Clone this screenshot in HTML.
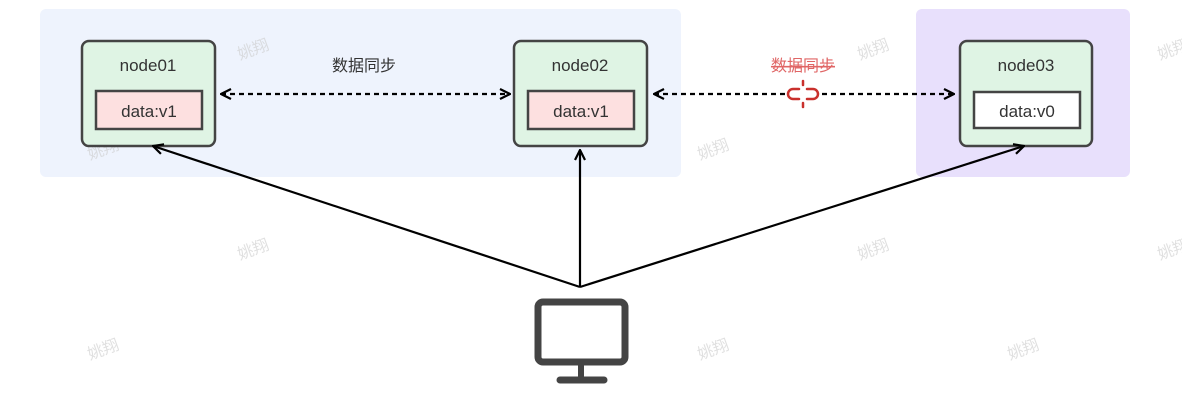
<!DOCTYPE html>
<html><head><meta charset="utf-8"><style>
body{margin:0;width:1182px;height:408px;background:#fff;overflow:hidden;font-family:"Liberation Sans","Noto Sans CJK SC",sans-serif}
</style></head><body>
<svg width="1182" height="408" xmlns="http://www.w3.org/2000/svg" style="position:absolute;left:0;top:0">
<defs>
<marker id="a" viewBox="0 0 12 12" refX="11" refY="6" markerWidth="12" markerHeight="12" orient="auto-start-reverse" markerUnits="userSpaceOnUse">
<path d="M1,1 L11,6 L1,11" fill="none" stroke="#000" stroke-width="2.2"/></marker>
</defs>
<rect x="40" y="9" width="641" height="168" rx="6" fill="#eef3fd"/>
<rect x="916" y="9" width="214" height="168" rx="6" fill="#e8e0fc"/>
<g font-size="16" fill="#ccc" opacity="0.6">
<text x="240" y="60" transform="rotate(-20 240 60)">姚翔</text>
<text x="90" y="160" transform="rotate(-20 90 160)">姚翔</text>
<text x="700" y="160" transform="rotate(-20 700 160)">姚翔</text>
<text x="860" y="60" transform="rotate(-20 860 60)">姚翔</text>
<text x="1160" y="60" transform="rotate(-20 1160 60)">姚翔</text>
<text x="240" y="260" transform="rotate(-20 240 260)">姚翔</text>
<text x="860" y="260" transform="rotate(-20 860 260)">姚翔</text>
<text x="1160" y="260" transform="rotate(-20 1160 260)">姚翔</text>
<text x="90" y="360" transform="rotate(-20 90 360)">姚翔</text>
<text x="700" y="360" transform="rotate(-20 700 360)">姚翔</text>
<text x="1010" y="360" transform="rotate(-20 1010 360)">姚翔</text>
</g>
<g stroke="#444" stroke-width="2.5">
<rect x="82" y="41" width="133" height="105" rx="7" fill="#dff4e4"/>
<rect x="514" y="41" width="133" height="105" rx="7" fill="#dff4e4"/>
<rect x="960" y="41" width="132" height="105" rx="7" fill="#dff4e4"/>
<rect x="96" y="91" width="106" height="38" fill="#fde0e0"/>
<rect x="528" y="91" width="106" height="38" fill="#fde0e0"/>
<rect x="974" y="92" width="106" height="36" fill="#fff"/>
</g>
<g font-size="17" fill="#333" text-anchor="middle">
<text x="148" y="71">node01</text><text x="580" y="71">node02</text><text x="1026" y="71">node03</text>
<text x="149" y="117">data:v1</text><text x="581" y="117">data:v1</text><text x="1027" y="117">data:v0</text>
<text x="364" y="71" font-size="16">数据同步</text>
<text x="803" y="71" font-size="16" fill="#e06666" text-decoration="line-through">数据同步</text>
</g>
<g stroke="#000" stroke-width="2.2" fill="none">
<line x1="221" y1="94" x2="510" y2="94" stroke-dasharray="5 4" marker-start="url(#a)" marker-end="url(#a)"/>
<line x1="654" y1="94" x2="785" y2="94" stroke-dasharray="5 4" marker-start="url(#a)"/>
<line x1="822" y1="94" x2="954" y2="94" stroke-dasharray="5 4" marker-end="url(#a)"/>
<line x1="580" y1="287" x2="153" y2="146" marker-end="url(#a)"/>
<line x1="580" y1="287" x2="580" y2="150" marker-end="url(#a)"/>
<line x1="580" y1="287" x2="1024" y2="146" marker-end="url(#a)"/>
</g>
<g stroke="#c9302c" stroke-width="2.5" fill="none" stroke-linecap="round">
<path d="M799,89 h-6 a5,5 0 0 0 0,10 h6"/>
<path d="M807,89 h6 a5,5 0 0 1 0,10 h-6"/>
<line x1="803" y1="81" x2="803" y2="85"/><line x1="803" y1="103" x2="803" y2="107"/>
</g>
<rect x="538" y="302" width="87" height="60" rx="5" fill="none" stroke="#444" stroke-width="7"/>
<rect x="578" y="364" width="6" height="14" fill="#444"/>
<line x1="560" y1="380" x2="604" y2="380" stroke="#444" stroke-width="7" stroke-linecap="round"/>
</svg>
</body></html>
